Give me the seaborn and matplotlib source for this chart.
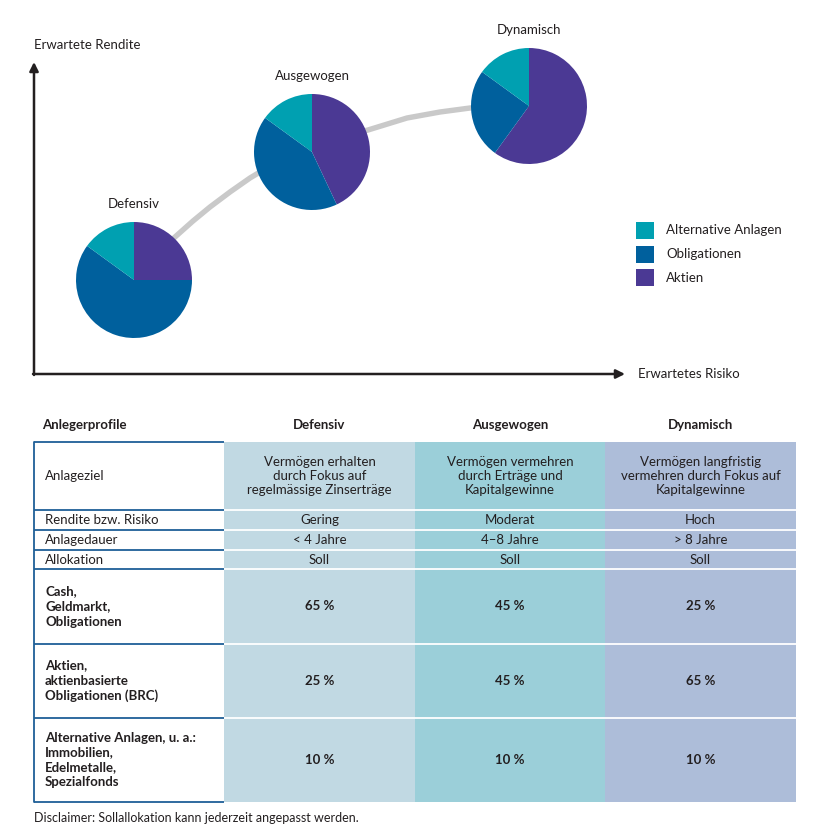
"""Anlegerprofile: risk/return pies plus allocation table."""

import matplotlib
matplotlib.use("Agg")
import matplotlib.pyplot as plt
import seaborn as sns
from matplotlib.patches import Rectangle

# --- data -----------------------------------------------------------------
profiles = ["Defensiv", "Ausgewogen", "Dynamisch"]
legend_labels = ["Alternative Anlagen", "Obligationen", "Aktien"]

# slice shares as drawn in the pies (Aktien, Obligationen, Alternative)
pie_aktien = [25, 43, 60]
pie_obligationen = [60, 42, 25]
pie_alternative = [15, 15, 15]

# pie centres on the risk / return plane (pixel units of the figure)
pie_risk = [134, 312, 529]
pie_return = [280, 152, 106]

# grey curve linking the profiles
curve_risk = [134, 155, 175, 193, 210, 230, 250, 280, 312, 340, 368, 407, 440, 470, 529]
curve_return = [280, 256, 237, 221, 207, 192, 178, 160, 147, 137, 130, 118, 112, 108, 106]

# table
row_labels = ["Anlageziel", "Rendite bzw. Risiko", "Anlagedauer", "Allokation",
              "Cash,\nGeldmarkt,\nObligationen",
              "Aktien,\naktienbasierte\nObligationen (BRC)",
              "Alternative Anlagen, u. a.:\nImmobilien,\nEdelmetalle,\nSpezialfonds"]
anlageziel = ["Vermögen erhalten\ndurch Fokus auf\nregelmässige Zinserträge",
              "Vermögen vermehren\ndurch Erträge und\nKapitalgewinne",
              "Vermögen langfristig\nvermehren durch Fokus auf\nKapitalgewinne"]
rendite = ["Gering", "Moderat", "Hoch"]
anlagedauer = ["< 4 Jahre", "4–8 Jahre", "> 8 Jahre"]
allokation = ["Soll", "Soll", "Soll"]
alloc_cash = [65, 45, 25]
alloc_aktien = [25, 45, 65]
alloc_alternative = [10, 10, 10]

# --- style ----------------------------------------------------------------
sns.set_theme(style="white")
plt.rcParams["font.family"] = ["Lato", "DejaVu Sans"]

W, H = 827, 835
C_ALT = "#00a0b1"
C_OBL = "#00609d"
C_AKT = "#4b3994"
C_DARK = "#231f20"
C_LINE = "#1f5f97"
col_colors = ["#c1d9e3", "#9bcfd9", "#adbdd9"]

row_edges = [442, 510, 530, 550, 569, 644, 718, 802]
col_edges = [34, 224, 415, 605, 796]


def py(y):
    """flip pixel y (top-down) to axes y (bottom-up)"""
    return H - y


fig = plt.figure(figsize=(W / 100, H / 100), dpi=100)
ax = fig.add_axes([0, 0, 1, 1])

# --- top chart ------------------------------------------------------------
sns.lineplot(x=curve_risk, y=[py(v) for v in curve_return], sort=False,
             color="#c9c9c9", linewidth=3.9, ax=ax, zorder=1)

for i, name in enumerate(profiles):
    ax.pie([pie_aktien[i], pie_obligationen[i], pie_alternative[i]],
           colors=[C_AKT, C_OBL, C_ALT], startangle=90, counterclock=False,
           center=(pie_risk[i], py(pie_return[i])), radius=58, frame=True,
           wedgeprops={"linewidth": 0})
    ax.text(pie_risk[i], py(pie_return[i] - 76), name, ha="center", va="center",
            fontsize=9.5, color=C_DARK)

arrow = dict(arrowstyle="-|>", lw=1.8, color=C_DARK, mutation_scale=13,
             shrinkA=0, shrinkB=0)
ax.annotate("", xy=(34, py(62)), xytext=(34, py(375)), arrowprops=arrow)
ax.annotate("", xy=(625, py(374)), xytext=(33, py(374)), arrowprops=arrow)
ax.text(34, py(45), "Erwartete Rendite", ha="left", va="center",
        fontsize=9.5, color=C_DARK)
ax.text(638, py(374), "Erwartetes Risiko", ha="left", va="center",
        fontsize=9.5, color=C_DARK)

# legend
for k, (lab, colr) in enumerate(zip(legend_labels, [C_ALT, C_OBL, C_AKT])):
    top = 222 + k * 23.5
    ax.add_patch(Rectangle((636, py(top + 17)), 18, 17, color=colr, lw=0))
    ax.text(666, py(top + 8.5), lab, ha="left", va="center",
            fontsize=9.5, color=C_DARK)

# --- table ----------------------------------------------------------------
ax.text(42, py(425), "Anlegerprofile", ha="left", va="center",
        fontsize=9.5, fontweight="bold", color=C_DARK)
for j, name in enumerate(profiles):
    cx = (col_edges[j + 1] + col_edges[j + 2]) / 2
    ax.text(cx, py(425), name, ha="center", va="center",
            fontsize=9.5, fontweight="bold", color=C_DARK)
    ax.add_patch(Rectangle((col_edges[j + 1], py(row_edges[-1])),
                           col_edges[j + 2] - col_edges[j + 1],
                           row_edges[-1] - row_edges[0],
                           color=col_colors[j], lw=0, zorder=1))

# row separators: dark blue under the label column, white across the colours
for y in row_edges:
    ax.plot([col_edges[0], col_edges[1]], [py(y), py(y)], color=C_LINE,
            lw=1.3, zorder=3, solid_capstyle="butt")
    if y not in (row_edges[0], row_edges[-1]):
        ax.plot([col_edges[1], col_edges[-1]], [py(y), py(y)], color="white",
                lw=1.3, zorder=3, solid_capstyle="butt")
ax.plot([col_edges[0], col_edges[0]], [py(row_edges[0]), py(row_edges[-1])],
        color=C_LINE, lw=1.3, zorder=3)

cells = [anlageziel, rendite, anlagedauer, allokation,
         [f"{v} %" for v in alloc_cash],
         [f"{v} %" for v in alloc_aktien],
         [f"{v} %" for v in alloc_alternative]]

for r, lab in enumerate(row_labels):
    cy = py((row_edges[r] + row_edges[r + 1]) / 2)
    bold = r >= 4
    ax.text(45, cy, lab, ha="left", va="center", fontsize=9.5,
            fontweight="bold" if bold else "normal", color=C_DARK,
            linespacing=1.3, zorder=4)
    for j in range(3):
        cx = (col_edges[j + 1] + col_edges[j + 2]) / 2
        ax.text(cx, cy, cells[r][j], ha="center", va="center", fontsize=9.5,
                fontweight="bold" if bold else "normal", color=C_DARK,
                linespacing=1.25, zorder=4)

ax.text(34, py(818), "Disclaimer: Sollallokation kann jederzeit angepasst werden.",
        ha="left", va="center", fontsize=9, color=C_DARK)

ax.set_xlim(0, W)
ax.set_ylim(0, H)
ax.set_aspect("equal")
ax.axis("off")

fig.savefig("out.png", dpi=100)
plt.close(fig)
